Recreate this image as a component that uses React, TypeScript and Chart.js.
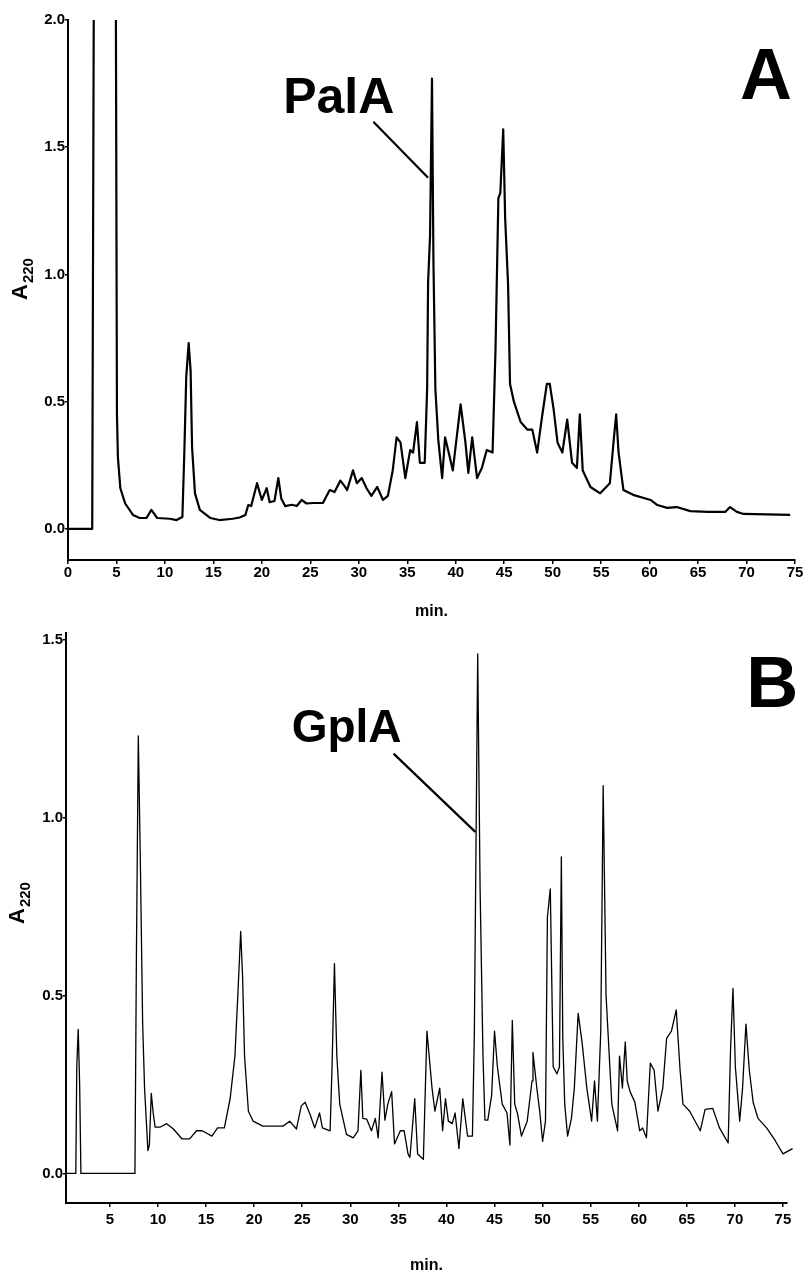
import React, { useEffect, useRef } from "react";
import { Chart, registerables } from "chart.js";

Chart.register(...registerables);

// ---------- Panel A data (retention time in min, absorbance A220) ----------
const timeA = [
  0, 2.5, 2.7, 4.9, 5.05, 5.15, 5.4, 5.9, 6.7, 7.4, 8.1, 8.6, 9.2, 10.5, 11.2, 11.8, 12.0, 12.2, 12.45, 12.65,
  12.8, 13.1, 13.6, 14.7, 15.6, 17.0, 17.7, 18.3, 18.6, 18.9, 19.5, 20.0, 20.5, 20.8, 21.3, 21.7, 22.0, 22.4, 23.1, 23.6,
  24.1, 24.6, 25.3, 26.3, 27.0, 27.5, 28.1, 28.5, 28.8, 29.4, 29.8, 30.3, 30.8, 31.3, 31.9, 32.5, 33.0, 33.5, 33.9, 34.3,
  34.8, 35.3, 35.6, 36.0, 36.3, 36.8, 37.05, 37.15, 37.35, 37.55, 37.7, 37.9, 38.2, 38.6, 38.9, 39.4, 39.7, 40.5, 41.0, 41.3,
  41.7, 42.2, 42.7, 43.2, 43.8, 44.1, 44.4, 44.6, 44.9, 45.1, 45.4, 45.6, 46.0, 46.7, 47.4, 47.9, 48.4, 48.9, 49.4, 49.7,
  50.1, 50.5, 51.0, 51.5, 52.0, 52.5, 52.8, 53.1, 53.9, 54.9, 55.9, 56.3, 56.55, 56.8, 57.3, 58.3, 60.1, 60.8, 61.8, 62.8,
  64.2, 66.0, 67.8, 68.3, 69.0, 69.7, 74.5,
];
const absA = [
  0, 0, 2.6, 2.6, 0.45, 0.28, 0.16, 0.1, 0.055, 0.043, 0.043, 0.075, 0.043, 0.04, 0.035, 0.047, 0.3, 0.6, 0.73, 0.62,
  0.32, 0.14, 0.075, 0.043, 0.035, 0.04, 0.045, 0.055, 0.094, 0.09, 0.18, 0.114, 0.16, 0.105, 0.11, 0.2, 0.12, 0.09, 0.095, 0.09,
  0.114, 0.1, 0.102, 0.102, 0.153, 0.145, 0.19, 0.17, 0.153, 0.23, 0.18, 0.2, 0.16, 0.13, 0.165, 0.114, 0.13, 0.23, 0.36, 0.34,
  0.2, 0.31, 0.3, 0.42, 0.26, 0.26, 0.55, 0.97, 1.15, 1.77, 1.05, 0.55, 0.35, 0.2, 0.36, 0.28, 0.23, 0.49, 0.34, 0.22,
  0.36, 0.2, 0.24, 0.31, 0.3, 0.7, 1.3, 1.32, 1.57, 1.22, 0.96, 0.57, 0.5, 0.42, 0.39, 0.39, 0.3, 0.44, 0.57, 0.57,
  0.47, 0.34, 0.3, 0.43, 0.26, 0.24, 0.45, 0.23, 0.165, 0.14, 0.18, 0.35, 0.45, 0.3, 0.153, 0.134, 0.114, 0.094, 0.083, 0.086,
  0.07, 0.067, 0.067, 0.086, 0.067, 0.059, 0.055,
];

// ---------- Panel B data ----------
const timeB = [
  0.4, 1.45, 1.55, 1.7, 1.85, 1.98, 7.6, 7.75, 7.95, 8.15, 8.4, 8.6, 8.95, 9.1, 9.3, 9.5, 9.7, 10.2, 10.9, 11.6,
  12.5, 13.3, 14.0, 14.6, 15.6, 16.2, 16.9, 17.5, 18.0, 18.3, 18.6, 18.8, 19.0, 19.4, 19.9, 20.9, 23.0, 23.7, 24.4, 24.9,
  25.3, 25.8, 26.3, 26.8, 27.1, 27.9, 28.1, 28.35, 28.6, 28.9, 29.6, 30.3, 30.8, 31.1, 31.3, 31.7, 32.2, 32.6, 32.9, 33.3,
  33.6, 33.9, 34.3, 34.6, 35.2, 35.6, 36.0, 36.2, 36.7, 37.0, 37.6, 37.97, 38.5, 38.8, 39.3, 39.6, 39.9, 40.2, 40.6, 40.9,
  41.3, 41.7, 42.2, 42.7, 42.9, 43.25, 43.5, 43.8, 44.0, 44.3, 44.7, 45.0, 45.3, 45.8, 46.3, 46.6, 46.85, 47.1, 47.4, 47.8,
  48.4, 48.9, 49.0, 49.4, 49.7, 50.0, 50.3, 50.5, 50.8, 51.1, 51.5, 51.75, 51.95, 52.1, 52.3, 52.6, 53.0, 53.3, 53.7, 54.1,
  54.6, 55.1, 55.4, 55.7, 56.05, 56.3, 56.6, 57.2, 57.8, 58.0, 58.3, 58.6, 58.8, 59.1, 59.6, 60.1, 60.4, 60.8, 61.2, 61.6,
  62.0, 62.5, 62.9, 63.4, 63.9, 64.3, 64.6, 65.3, 66.4, 66.9, 67.7, 68.4, 69.3, 69.55, 69.8, 70.05, 70.5, 70.8, 71.15, 71.5,
  71.9, 72.4, 73.3, 74.2, 75.0, 76.0, 77.0,
];
const absB = [
  0, 0, 0.3, 0.405, 0.25, 0, 0, 0.6, 1.23, 0.9, 0.425, 0.24, 0.064, 0.08, 0.225, 0.17, 0.13, 0.13, 0.14, 0.125,
  0.097, 0.097, 0.12, 0.12, 0.105, 0.128, 0.128, 0.21, 0.33, 0.5, 0.68, 0.55, 0.33, 0.175, 0.147, 0.133, 0.133, 0.147, 0.125, 0.19,
  0.2, 0.167, 0.128, 0.17, 0.128, 0.12, 0.3, 0.59, 0.33, 0.195, 0.11, 0.1, 0.12, 0.29, 0.155, 0.153, 0.12, 0.155, 0.1, 0.285,
  0.15, 0.195, 0.23, 0.083, 0.12, 0.12, 0.055, 0.045, 0.21, 0.055, 0.04, 0.4, 0.24, 0.175, 0.24, 0.12, 0.21, 0.147, 0.14, 0.17,
  0.07, 0.21, 0.105, 0.105, 0.39, 1.46, 0.8, 0.33, 0.15, 0.15, 0.22, 0.4, 0.3, 0.195, 0.17, 0.08, 0.43, 0.195, 0.167, 0.105,
  0.147, 0.26, 0.34, 0.24, 0.175, 0.09, 0.147, 0.72, 0.8, 0.3, 0.28, 0.3, 0.89, 0.38, 0.195, 0.105, 0.155, 0.24, 0.45, 0.37,
  0.24, 0.147, 0.26, 0.147, 0.4, 1.09, 0.5, 0.195, 0.12, 0.33, 0.24, 0.37, 0.26, 0.23, 0.2, 0.12, 0.128, 0.1, 0.31, 0.29,
  0.175, 0.24, 0.38, 0.4, 0.46, 0.29, 0.195, 0.175, 0.12, 0.18, 0.183, 0.128, 0.086, 0.35, 0.52, 0.3, 0.147, 0.24, 0.42, 0.29,
  0.2, 0.155, 0.128, 0.092, 0.055, 0.07, 0.05,
];

// ---------- Tick labels ----------
const xTicksA = [0, 5, 10, 15, 20, 25, 30, 35, 40, 45, 50, 55, 60, 65, 70, 75];
const yTicksA = [0, 0.5, 1.0, 1.5, 2.0];
const xTicksB = [5, 10, 15, 20, 25, 30, 35, 40, 45, 50, 55, 60, 65, 70, 75];
const yTicksB = [0, 0.5, 1.0, 1.5];

const FONT = '"Liberation Sans", Arial, Helvetica, sans-serif';

type Spec = {
  panel: string;
  times: number[];
  values: number[];
  xTicks: number[];
  yTicks: number[];
  xMin: number;
  xMax: number;
  yMin: number;
  yMax: number;
  lineWidth: number;
  height: number;
  padTop: number;
  padRight: number;
  yAxisWidth: number;
  xAxisHeight: number;
  xTickPad: number;
  titlePad: number;
  clip: any;
  peakLabel: string;
  labelSize: number;
  labelAt: [number, number];
  leaderFrom: [number, number];
  leaderTo: [number, number];
  panelAt: [number, number];
  yTitleDx: number;
  yTitleDy: number;
  subDrop: number;
};

const specA: Spec = {
  panel: "A",
  times: timeA,
  values: absA,
  xTicks: xTicksA,
  yTicks: yTicksA,
  xMin: 0,
  xMax: 75,
  yMin: -0.122,
  yMax: 2.0,
  lineWidth: 2.2,
  height: 624,
  padTop: 20,
  padRight: 11,
  yAxisWidth: 68,
  xAxisHeight: 64,
  xTickPad: 0,
  titlePad: 2.4,
  clip: { left: 0, top: 0, right: 2, bottom: 2 },
  peakLabel: "PalA",
  labelSize: 50,
  labelAt: [22.2, 1.635],
  leaderFrom: [31.5, 1.6],
  leaderTo: [37.15, 1.38],
  panelAt: [74.7, 1.69],
  yTitleDx: 41,
  yTitleDy: 280,
  subDrop: 6,
};

const specB: Spec = {
  panel: "B",
  times: timeB,
  values: absB,
  xTicks: xTicksB,
  yTicks: yTicksB,
  xMin: 0.43,
  xMax: 75.42,
  yMin: -0.083,
  yMax: 1.519,
  lineWidth: 1.3,
  height: 655,
  padTop: 2,
  padRight: 19,
  yAxisWidth: 66,
  xAxisHeight: 76,
  xTickPad: 4,
  titlePad: 3.4,
  clip: { left: 1, top: 0, right: false, bottom: 1 },
  peakLabel: "GplA",
  labelSize: 46,
  labelAt: [23.9, 1.214],
  leaderFrom: [34.5, 1.18],
  leaderTo: [43.0, 0.96],
  panelAt: [76.6, 1.31],
  yTitleDx: 42,
  yTitleDy: 291,
  subDrop: 6,
};

function annotationPlugin(spec: Spec) {
  return {
    id: "annot" + spec.panel,
    afterDraw(chart: any) {
      const ctx: CanvasRenderingContext2D = chart.ctx;
      const xs = chart.scales.x;
      const ys = chart.scales.y;
      const ca = chart.chartArea;
      ctx.save();
      ctx.fillStyle = "#000";
      ctx.strokeStyle = "#000";

      // peak label
      ctx.font = `bold ${spec.labelSize}px ${FONT}`;
      ctx.textAlign = "left";
      ctx.textBaseline = "alphabetic";
      ctx.fillText(spec.peakLabel, xs.getPixelForValue(spec.labelAt[0]), ys.getPixelForValue(spec.labelAt[1]));

      // leader line
      ctx.lineWidth = 2.2;
      ctx.beginPath();
      ctx.moveTo(xs.getPixelForValue(spec.leaderFrom[0]), ys.getPixelForValue(spec.leaderFrom[1]));
      ctx.lineTo(xs.getPixelForValue(spec.leaderTo[0]), ys.getPixelForValue(spec.leaderTo[1]));
      ctx.stroke();

      // panel letter
      ctx.font = `bold 72px ${FONT}`;
      ctx.textAlign = "right";
      ctx.fillText(spec.panel, xs.getPixelForValue(spec.panelAt[0]), ys.getPixelForValue(spec.panelAt[1]));

      // y axis title A220 (subscript)
      ctx.translate(ca.left - spec.yTitleDx, ca.top + spec.yTitleDy);
      ctx.rotate(-Math.PI / 2);
      ctx.textAlign = "left";
      ctx.font = `bold 22px ${FONT}`;
      ctx.fillText("A", 0, 0);
      const w = ctx.measureText("A").width;
      ctx.font = `bold 15px ${FONT}`;
      ctx.fillText("220", w + 1, spec.subDrop);
      ctx.restore();
    },
  };
}

function Panel({ spec, top }: { spec: Spec; top: number }) {
  const ref = useRef<HTMLCanvasElement>(null);
  useEffect(() => {
    const canvas = ref.current;
    if (!canvas) return;
    const tickFont = { family: FONT, size: 15, weight: "bold" as const };
    const chart = new Chart(canvas, {
      type: "line",
      data: {
        datasets: [
          {
            data: spec.times.map((t, i) => ({ x: t, y: spec.values[i] })),
            borderColor: "#000",
            borderWidth: spec.lineWidth,
            pointRadius: 0,
            tension: 0,
            fill: false,
            borderJoinStyle: "round",
            clip: spec.clip,
          } as any,
        ],
      },
      options: {
        responsive: false,
        animation: false,
        events: [],
        layout: { padding: { left: 0, top: spec.padTop, right: spec.padRight, bottom: 0 } },
        plugins: { legend: { display: false }, tooltip: { enabled: false } },
        scales: {
          x: {
            type: "linear",
            min: spec.xMin,
            max: spec.xMax,
            afterBuildTicks: (s: any) => {
              s.ticks = spec.xTicks.map((v) => ({ value: v }));
            },
            afterFit: (s: any) => {
              s.height = spec.xAxisHeight;
            },
            ticks: {
              color: "#000",
              font: tickFont,
              padding: spec.xTickPad,
              maxRotation: 0,
              autoSkip: false,
              callback: (v: any) => String(v),
            },
            grid: {
              display: true,
              drawOnChartArea: false,
              drawTicks: true,
              tickLength: 4,
              color: "#000",
              lineWidth: 1.5,
            },
            border: { display: true, color: "#000", width: 2 },
            title: {
              display: true,
              text: "min.",
              color: "#000",
              font: { family: FONT, size: 16, weight: "bold" },
              padding: { top: 0, bottom: spec.titlePad },
            },
          },
          y: {
            type: "linear",
            min: spec.yMin,
            max: spec.yMax,
            afterBuildTicks: (s: any) => {
              s.ticks = spec.yTicks.map((v) => ({ value: v }));
            },
            afterFit: (s: any) => {
              s.width = spec.yAxisWidth;
            },
            ticks: {
              color: "#000",
              font: tickFont,
              padding: 0,
              autoSkip: false,
              callback: (v: any) => Number(v).toFixed(1),
            },
            grid: {
              display: true,
              drawOnChartArea: false,
              drawTicks: true,
              tickLength: 3,
              color: "#000",
              lineWidth: 1.5,
            },
            border: { display: true, color: "#000", width: 2 },
          },
        },
      } as any,
      plugins: [annotationPlugin(spec)],
    });
    return () => chart.destroy();
  }, [spec]);
  return (
    <div style={{ position: "absolute", left: 0, top, width: 806, height: spec.height }}>
      <canvas ref={ref} width={806} height={spec.height} style={{ display: "block" }} />
    </div>
  );
}

export default function App() {
  return (
    <div style={{ position: "absolute", left: 0, top: 0, width: 806, height: 1279, background: "#fff", overflow: "hidden" }}>
      <Panel spec={specA} top={0} />
      <Panel spec={specB} top={624} />
    </div>
  );
}
